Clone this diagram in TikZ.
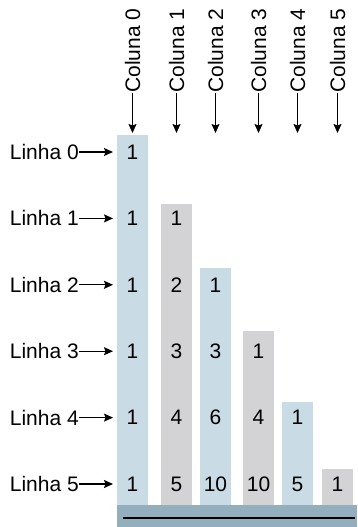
\documentclass[tikz,border=0pt]{standalone}
\usepackage{fontspec}
\setmainfont{Liberation Sans}
\usetikzlibrary{arrows.meta}
\definecolor{barblue}{HTML}{C9DCE6}
\definecolor{bargray}{HTML}{D3D3D5}
\definecolor{basecol}{HTML}{93AEBD}
\begin{document}
\begin{tikzpicture}[x=1pt,y=-1pt,
  lbl/.style={inner sep=0pt,font=\fontsize{21}{25}\selectfont},
  num/.style={inner sep=0pt,font=\fontsize{21}{25}\selectfont},
  arr/.style={line width=1.2pt,-{Stealth[length=9pt,width=8pt,inset=1.5pt]}}]
\useasboundingbox (0,0) rectangle (357,527);
% bars
\fill[barblue] (117,135) rectangle (148,505);
\fill[bargray] (161,204) rectangle (192,505);
\fill[barblue] (200,268) rectangle (231,505);
\fill[bargray] (243,331) rectangle (274,505);
\fill[barblue] (282,402) rectangle (313,505);
\fill[bargray] (322,469) rectangle (353,505);
% base
\fill[basecol] (117,505) rectangle (357,527);
\coordinate (bl) at (123,518);
\coordinate (br) at (355,518);
\draw[line width=1.1pt] (bl) -- (br);
% column labels
\foreach \i/\cx in {0/132.5,1/176.5,2/215.5,3/258.5,4/297.5,5/337.5}{
  \node[lbl,rotate=90,anchor=west] (c\i) at (\cx,93) {Coluna \i};
  \coordinate (ct\i) at (\cx,133);
  \draw[arr] (c\i.west) -- (ct\i);
}
% row labels
\foreach \r/\ry in {0/152,1/218.4,2/284.8,3/351.2,4/417.6,5/484}{
  \node[lbl,anchor=east] (r\r) at (79,\ry) {Linha \r};
  \coordinate (rt\r) at (113,\ry);
  \draw[arr] (r\r.east) -- (rt\r);
}
% numbers
\node[num] (n00) at (132.5,152) {1};
\node[num] (n10) at (132.5,218.4) {1};
\node[num] (n11) at (176.5,218.4) {1};
\node[num] (n20) at (132.5,284.8) {1};
\node[num] (n21) at (176.5,284.8) {2};
\node[num] (n22) at (215.5,284.8) {1};
\node[num] (n30) at (132.5,351.2) {1};
\node[num] (n31) at (176.5,351.2) {3};
\node[num] (n32) at (215.5,351.2) {3};
\node[num] (n33) at (258.5,351.2) {1};
\node[num] (n40) at (132.5,417.6) {1};
\node[num] (n41) at (176.5,417.6) {4};
\node[num] (n42) at (215.5,417.6) {6};
\node[num] (n43) at (258.5,417.6) {4};
\node[num] (n44) at (297.5,417.6) {1};
\node[num] (n50) at (132.5,484) {1};
\node[num] (n51) at (176.5,484) {5};
\node[num] (n52) at (215.5,484) {10};
\node[num] (n53) at (258.5,484) {10};
\node[num] (n54) at (297.5,484) {5};
\node[num] (n55) at (337.5,484) {1};
\end{tikzpicture}
\end{document}
